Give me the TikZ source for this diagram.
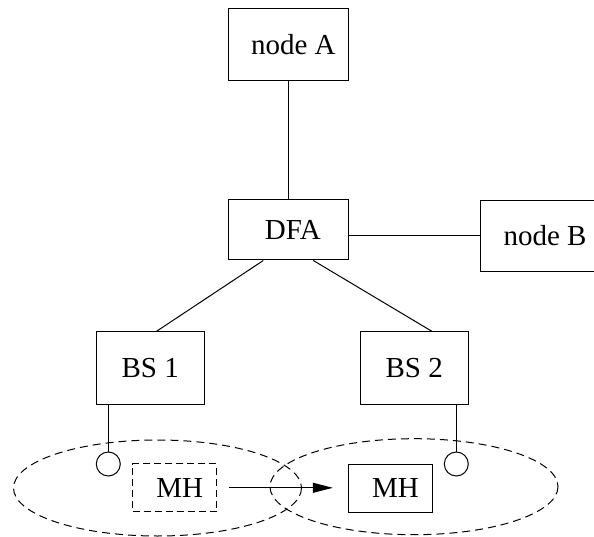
\documentclass[tikz,border=0pt]{standalone}
\usepackage{fontspec}
\setmainfont{Liberation Serif}
\usetikzlibrary{arrows.meta}
\begin{document}
\begin{tikzpicture}[x=1pt,y=-1pt,
  line width=1pt,
  box/.style={draw, rectangle, inner sep=0pt, font=\fontsize{29}{33}\selectfont},
  antenna/.style={draw, circle, inner sep=0pt, minimum size=24pt},
  cell/.style={draw, dash pattern=on 8pt off 5pt},
  ghost/.style={box, dash pattern=on 7pt off 4pt}
]
\useasboundingbox (0,0) rectangle (594,537);
\clip (0,0) rectangle (594,537);

% network elements
\node[box, minimum width=120pt, minimum height=71.7pt] (A)   at (288.3,44.2) {\hspace{10pt}node A};
\node[box, minimum width=120pt, minimum height=60pt]   (dfa) at (288.3,230)  {\hspace{9pt}DFA};
\node[box, minimum width=130pt, minimum height=71.7pt] (B)   at (545,236)    {node B};
\node[box, minimum width=108.3pt, minimum height=72.6pt] (bs1) at (150.2,368) {BS 1\hspace{5pt}};
\node[box, minimum width=108.3pt, minimum height=72.6pt] (bs2) at (414.2,368) {BS 2\hspace{3pt}};

% antennas
\node[antenna] (ant1) at (108.3,464) {};
\node[antenna] (ant2) at (456.3,464) {};

% radio cells
\draw[cell] (157.5,488) ellipse [x radius=144, y radius=48];
\draw[cell] (414,486.7) ellipse [x radius=144, y radius=48];

% mobile host before and after handover
\node[ghost, minimum width=84pt, minimum height=47.7pt] (mh1) at (174.7,487.8) {\hspace{10pt}MH};
\node[box,   minimum width=84.4pt, minimum height=48.3pt] (mh2) at (390.5,488.2) {\hspace{10pt}MH};

% wired links
\draw (A.south) -- (dfa.north);
\draw (B.west -| dfa.east) -- (B.west);
\draw ([xshift=-25pt]dfa.south) -- ([xshift=6.5pt]bs1.north);
\draw ([xshift=25pt]dfa.south) -- ([xshift=17.5pt]bs2.north);
\draw (ant1.north |- bs1.south) -- (ant1.north);
\draw (ant2.north |- bs2.south) -- (ant2.north);

% movement
\draw[-{Triangle[length=20pt,width=10pt]}, shorten <=11.6pt, shorten >=15pt]
  (mh1.east) -- (mh1.east -| mh2.west);
\end{tikzpicture}
\end{document}
